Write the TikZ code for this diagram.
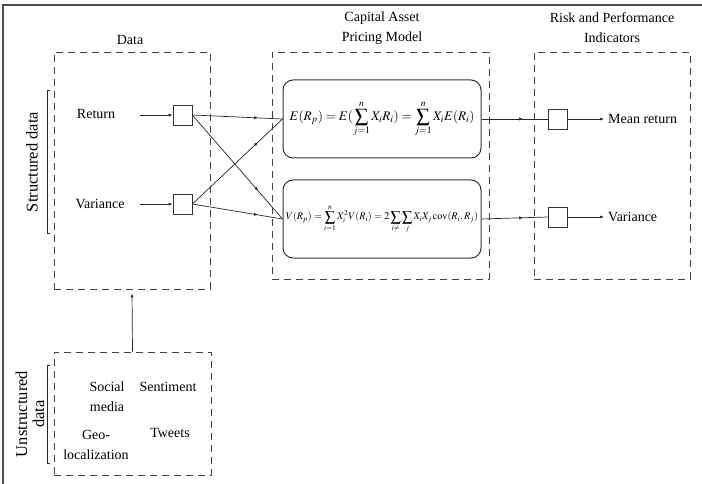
\documentclass[tikz,border=0pt]{standalone}
\usepackage{amsmath}
\usepackage{graphicx}
\usepackage{mathptmx}
\usepackage{fontspec}
\setmainfont{Liberation Serif}
\usetikzlibrary{arrows.meta, positioning, decorations.markings}
\tikzstyle{group} = [rectangle, draw=black!75, line width=0.9pt, dash pattern=on 7pt off 5pt, inner sep=0pt]
\tikzstyle{port} = [rectangle, draw=black!80, line width=0.7pt, minimum width=19pt, minimum height=20pt, inner sep=0pt]
\tikzstyle{formula} = [rectangle, rounded corners=10pt, draw=black!80, line width=1pt, minimum width=198pt, minimum height=78pt, inner sep=0pt]
\tikzstyle{arrow} = [draw=black!85, line width=0.7pt, -{Latex[length=4pt,width=3pt]}]
\tikzset{midarrow/.style={draw=black!85, line width=0.7pt, postaction={decorate}, decoration={markings, mark=at position #1 with {\arrow{Latex[length=4pt,width=3pt]}}}}}

\begin{document}
\begin{tikzpicture}[x=1pt, y=-1pt, every node/.style={font=\fontsize{14}{20}\selectfont}]
\useasboundingbox (0,0) rectangle (702,484);
\draw[black!70, line width=1.2pt] (702,5) -- (3,5) -- (3,484);

% groups
\node (data) [group, minimum width=156pt, minimum height=237pt] at (132,170.5) {};
\node (capm) [group, minimum width=217pt, minimum height=227pt] at (380.5,165.5) {};
\node (risk) [group, minimum width=156pt, minimum height=227pt] at (612,165.5) {};
\node (unstr) [group, minimum width=157pt, minimum height=123pt] at (132.5,413.5) {};

\node (datatitle) at (130,40) {Data};
\node (capmtitle) [align=center] at (382,28) {Capital Asset\\Pricing Model};
\node (risktitle) [align=center] at (612,28) {Risk and Performance\\Indicators};

% structured data
\node (ret) at (96,114) {Return};
\node (var) at (100,204) {Variance};
\coordinate (retin) at (140,115);
\coordinate (varin) at (140,204);
\node (retsq) [port] at (182.5,115) {};
\node (varsq) [port] at (182.5,204) {};
\draw [arrow] (retin) -- (retsq);
\draw [arrow] (varin) -- (varsq);

\draw [black!85, line width=0.7pt] (50,90) -- (47,90) -- (47,233) -- (50,233);
\node (structlabel) [rotate=90, font=\fontsize{16.5}{17}\selectfont] at (32,162) {Structured data};

% model
\node (eq1) [formula] at (382,119) {\resizebox{185pt}{!}{$\displaystyle E(R_p)=E(\sum_{j=1}^{n}X_iR_i)=\sum_{j=1}^{n}X_iE(R_i)$}};
\node (eq2) [formula] at (382,219) {\resizebox{192pt}{!}{$\displaystyle V(R_p)=\sum_{i=1}^{n}X_i^2V(R_i)=2\sum_{i\neq}\sum_{j}X_iX_j\,\mathrm{cov}(R_i,R_j)$}};

\draw [midarrow=0.73] (retsq.east) -- (eq1.west);
\draw [midarrow=0.73] (retsq.east) -- (eq2.west);
\draw [midarrow=0.73] (varsq.east) -- (eq1.west);
\draw [midarrow=0.73] (varsq.east) -- (eq2.west);

% indicators
\node (outsq1) [port] at (557.5,119) {};
\node (outsq2) [port] at (557.5,217) {};
\draw [midarrow=0.63] (eq1.east) -- (outsq1.west);
\draw [midarrow=0.63] (eq2.east) -- (outsq2.west);
\node (mean) [anchor=west, inner sep=4pt] at (604,119) {Mean return};
\node (variance) [anchor=west, inner sep=4pt] at (604,217) {Variance};
\draw [arrow] (outsq1) -- (mean);
\draw [arrow] (outsq2) -- (variance);

% unstructured data
\node (social) [align=center] at (107,397) {Social\\media};
\node (senti) at (168,387) {Sentiment};
\node (geo) [align=center] at (96,445) {Geo-\\localization};
\node (tweets) at (170,433) {Tweets};
\draw [arrow, shorten >=4pt] (unstr.north) -- (data.south);

\draw [black!85, line width=0.7pt] (50,365) -- (47,365) -- (47,463) -- (50,463);
\node (unstrlabel) [rotate=90, align=center, font=\fontsize{16.5}{17}\selectfont] at (30,414) {Unstructured\\data};

\end{tikzpicture}
\end{document}
